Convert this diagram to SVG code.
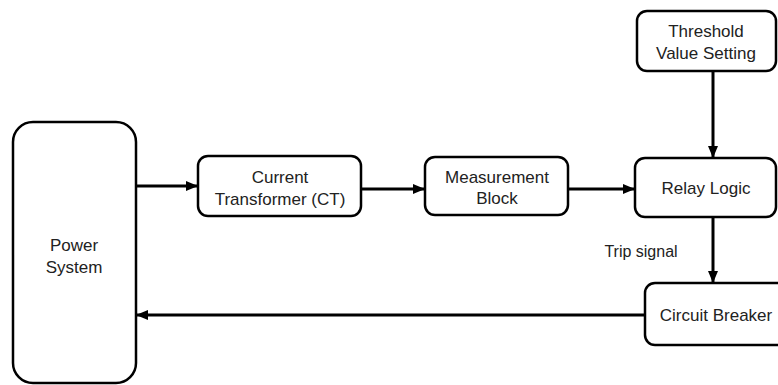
<svg xmlns="http://www.w3.org/2000/svg" width="778" height="385" viewBox="0 0 778 385">
<style>
.box{fill:#fff;stroke:#000;stroke-width:2.5}
.lbl{font-family:"Liberation Sans",Arial,sans-serif;font-size:17px;fill:#222;text-anchor:middle}
.con{stroke:#000;stroke-width:3;fill:none;marker-end:url(#ah)}
</style>
<defs>
<marker id="ah" viewBox="0 0 12 10" refX="12" refY="5" markerWidth="12" markerHeight="10" markerUnits="userSpaceOnUse" orient="auto">
<path d="M0,0 L12,5 L0,10 Z" fill="#000"/>
</marker>
</defs>
<rect width="778" height="385" fill="#fff"/>
<g id="connectors">
<line class="con" x1="136" y1="186" x2="198" y2="186"/>
<line class="con" x1="361" y1="189" x2="425" y2="189"/>
<line class="con" x1="568" y1="189" x2="635" y2="189"/>
<line class="con" x1="713" y1="71" x2="713" y2="158"/>
<line class="con" x1="713" y1="217" x2="713" y2="283"/>
<line class="con" x1="645" y1="315" x2="136" y2="315"/>
<text class="lbl" x="641" y="257" style="font-size:16px">Trip signal</text>
</g>
<g id="power-system">
<rect class="box" x="13" y="122" width="123" height="261" rx="20"/>
<text class="lbl" x="74" y="251">Power</text>
<text class="lbl" x="74" y="273">System</text>
</g>
<g id="current-transformer">
<rect class="box" x="198" y="156" width="163" height="60" rx="10"/>
<text class="lbl" x="280" y="183">Current</text>
<text class="lbl" x="280" y="205">Transformer (CT)</text>
</g>
<g id="measurement-block">
<rect class="box" x="425" y="157" width="143" height="58" rx="10"/>
<text class="lbl" x="497" y="183">Measurement</text>
<text class="lbl" x="497" y="204">Block</text>
</g>
<g id="threshold">
<rect class="box" x="637" y="11" width="139" height="60" rx="10"/>
<text class="lbl" x="706" y="37">Threshold</text>
<text class="lbl" x="706" y="59">Value Setting</text>
</g>
<g id="relay-logic">
<rect class="box" x="635" y="158" width="141" height="59" rx="10"/>
<text class="lbl" x="706" y="194">Relay Logic</text>
</g>
<g id="circuit-breaker">
<rect class="box" x="645" y="283" width="145" height="62" rx="10"/>
<text class="lbl" x="716" y="321">Circuit Breaker</text>
</g>
</svg>
